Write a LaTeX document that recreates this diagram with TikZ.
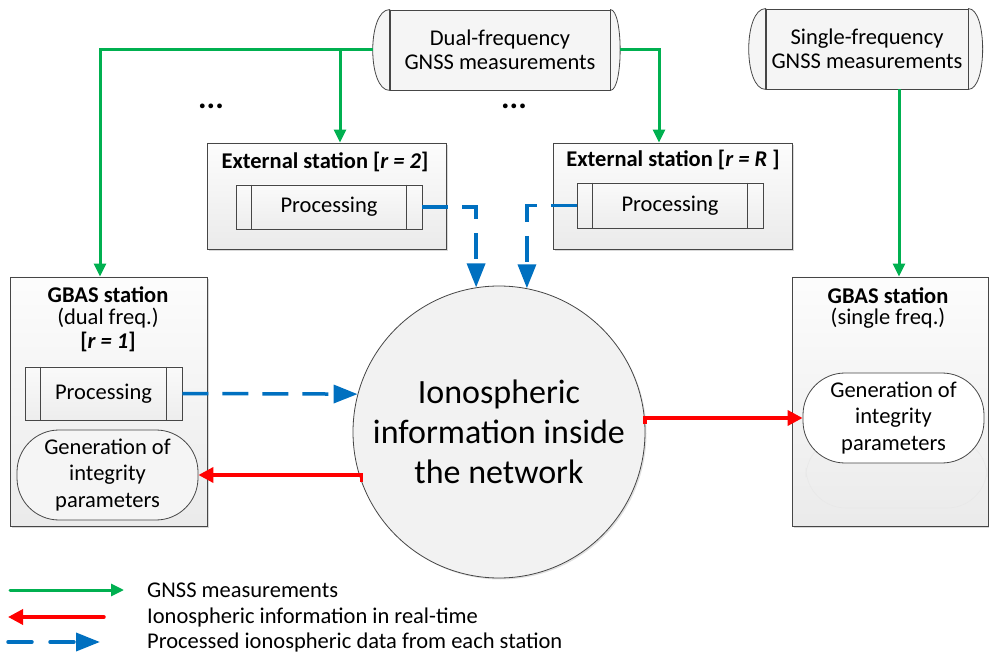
\documentclass[tikz,border=0pt]{standalone}
\usepackage{fontspec}
\setmainfont{Carlito}
\usetikzlibrary{arrows.meta,shadows,calc}

\definecolor{gnssgreen}{RGB}{0,176,80}
\definecolor{ionored}{RGB}{255,0,0}
\definecolor{procblue}{RGB}{0,112,192}
\definecolor{edge}{RGB}{70,70,70}

\tikzset{
  txt/.style={font=\fontsize{22.5}{24}\selectfont, align=center, inner sep=0pt},
  ttl/.style={txt, font=\fontsize{22.5}{24}\selectfont\bfseries},
  panel/.style={draw=edge, line width=0.9pt, inner sep=0pt,
    top color=white!99!black, bottom color=white!92!black,
    drop shadow={shadow xshift=2pt, shadow yshift=-2pt, opacity=0.25, fill=black!60}},
  procbox/.style={draw=edge, line width=0.8pt, inner sep=0pt,
    top color=white!98!black, bottom color=white!93!black,
    font=\fontsize{22.5}{24}\selectfont},
  source/.style={draw=edge, line width=0.8pt, inner sep=0pt,
    fill=white!96!black, font=\fontsize{22.5}{24}\selectfont, align=center},
  genbox/.style={draw=edge, line width=0.8pt, inner sep=0pt, rounded corners=42pt,
    fill=white!96!black, font=\fontsize{22.5}{26.5}\selectfont, align=center},
  gnss/.style={gnssgreen, line width=3pt, -{Triangle[length=13pt,width=12pt]}},
  ionoline/.style={ionored, line width=3.5pt, -{Triangle[length=15pt,width=15pt]}},
  procdata/.style={procblue, line width=3.5pt, dash pattern=on 26pt off 14pt,
    -{Triangle[length=24pt,width=18pt]}},
}

% vertical bars of a predefined-process box
\newcommand\procbars[1]{%
  \draw[edge, line width=0.8pt]
    ($(#1.north west)+(16,0)$) -- ($(#1.south west)+(16,0)$)
    ($(#1.north east)+(-16,0)$) -- ($(#1.south east)+(-16,0)$);}

\begin{document}
\begin{tikzpicture}[x=1pt, y=-1pt]
\useasboundingbox (0,0) rectangle (989,655);

% ---------- measurement sources (horizontal drums) ----------
\node[source, minimum width=220pt, minimum height=80pt] (dual) at (500,50)
  {Dual-frequency\\GNSS measurements};
\filldraw[edge, fill=white!96!black, line width=0.8pt]
  (dual.north west) .. controls +(-22.5,0) and +(-22.5,0) .. (dual.south west) -- cycle;
\filldraw[edge, fill=white!96!black, line width=0.8pt]
  (dual.north east) .. controls +(13,0) and +(13,0) .. (dual.south east) -- cycle;

\node[source, minimum width=202pt, minimum height=80pt] (single) at (867,49)
  {Single-frequency\\GNSS measurements};
\filldraw[edge, fill=white!96!black, line width=0.8pt]
  (single.north west) .. controls +(-22.5,0) and +(-22.5,0) .. (single.south west) -- cycle;
\filldraw[edge, fill=white!96!black, line width=0.8pt]
  (single.north east) .. controls +(19,0) and +(19,0) .. (single.south east) -- cycle;

\node[font=\fontsize{32}{32}\selectfont\bfseries, inner sep=0pt] (dotsL) at (211,106) {...};
\node[font=\fontsize{32}{32}\selectfont\bfseries, inner sep=0pt] (dotsR) at (514,106) {...};

% ---------- external stations ----------
\node[panel, minimum width=239pt, minimum height=106pt] (ext2) at (326.5,196) {};
\node[ttl] (ext2t) at (325,162) {External station [\textit{r = 2}]};
\node[procbox, minimum width=186pt, minimum height=44pt] (proc2) at (329,207) {Processing};
\procbars{proc2}

\node[panel, minimum width=239pt, minimum height=106pt] (extR) at (672.5,196) {};
\node[ttl] (extRt) at (673,160) {External station [\textit{r = R} ]};
\node[procbox, minimum width=186pt, minimum height=45pt] (procR) at (670,205.5) {Processing};
\procbars{procR}

% ---------- GBAS stations ----------
\node[panel, minimum width=197pt, minimum height=249pt] (gbasL) at (108.5,401.5) {};
\node[ttl] (gbasLt) at (108,295) {GBAS station};
\node[txt] (gbasLs) at (108,318) {(dual freq.)};
\node[ttl] (gbasLr) at (108,342) {[\textit{r = 1}]};
\node[procbox, minimum width=157pt, minimum height=53pt] (procL) at (103.5,393.5) {Processing};
\procbars{procL}
\node[genbox, minimum width=181pt, minimum height=90pt] (genL) at (107.5,475)
  {\raisebox{-3pt}{\parbox{160pt}{\centering Generation of\\integrity\\parameters}}};

\node[panel, minimum width=196pt, minimum height=249pt] (gbasR) at (890,401.5) {};
\node[ttl] (gbasRt) at (888,296) {GBAS station};
\node[txt] (gbasRs) at (888,318) {(single freq.)};
\draw[black!9, line width=0.6pt, rounded corners=40pt] (806,437) rectangle (987,508);
\node[genbox, fill=white, minimum width=181pt, minimum height=90pt] (genR) at (893.5,418)
  {Generation of\\integrity\\parameters};

% ---------- network ionospheric information ----------
\node[circle, draw=edge, line width=0.8pt, fill=white!95!black, minimum size=292pt,
  inner sep=0pt, align=center, font=\fontsize{34}{40}\selectfont,
  drop shadow={shadow xshift=1.5pt, shadow yshift=-1.5pt, opacity=0.2, fill=black!60}]
  (ion) at (499,432) {Ionospheric\\information inside\\the network};

% ---------- GNSS measurement flows ----------
\coordinate (gL) at (100,50);
\coordinate (gR) at (659,50);
\coordinate (g2) at (340,50);
\coordinate (gS) at (899,0);
\draw[gnss] ($(dual.west)+(-17,0)$) -- (gL) -- (gL |- gbasL.north);
\draw[gnss] (g2) -- (g2 |- ext2.north);
\draw[gnss] ($(dual.east)+(10,0)$) -- (gR) -- (gR |- extR.north);
\draw[gnss] (gS |- single.south) -- (gS |- gbasR.north);

% ---------- processed ionospheric data ----------
\draw[procdata] (proc2.east) -| (ion.99.5);
\draw[procdata] (procR.west) -| (ion.79);
\draw[procdata] (procL.east) -- (ion.165);

% ---------- real-time ionospheric information ----------
\draw[ionoline] (ion.3) |- (genR.west);
\draw[ionoline] (ion.200) |- (genL.east);

% ---------- legend ----------
\coordinate (k1a) at (10,590);  \coordinate (k1b) at (124,590);
\coordinate (k2a) at (104,617); \coordinate (k2b) at (8,617);
\coordinate (k3a) at (8,642);   \coordinate (k3b) at (100,642);
\draw[gnss, line cap=round] (k1a) -- (k1b);
\draw[ionoline, line cap=round] (k2a) -- (k2b);
\draw[procblue, line width=3.5pt, line cap=round, dash pattern=on 24pt off 18pt,
  -{Triangle[length=24pt,width=18pt]}] (k3a) -- (k3b);
\node[txt, anchor=west] (k1t) at (147,590) {GNSS measurements};
\node[txt, anchor=west] (k2t) at (147,617) {Ionospheric information in real-time};
\node[txt, anchor=west] (k3t) at (147,642) {Processed ionospheric data from each station};
\end{tikzpicture}
\end{document}
